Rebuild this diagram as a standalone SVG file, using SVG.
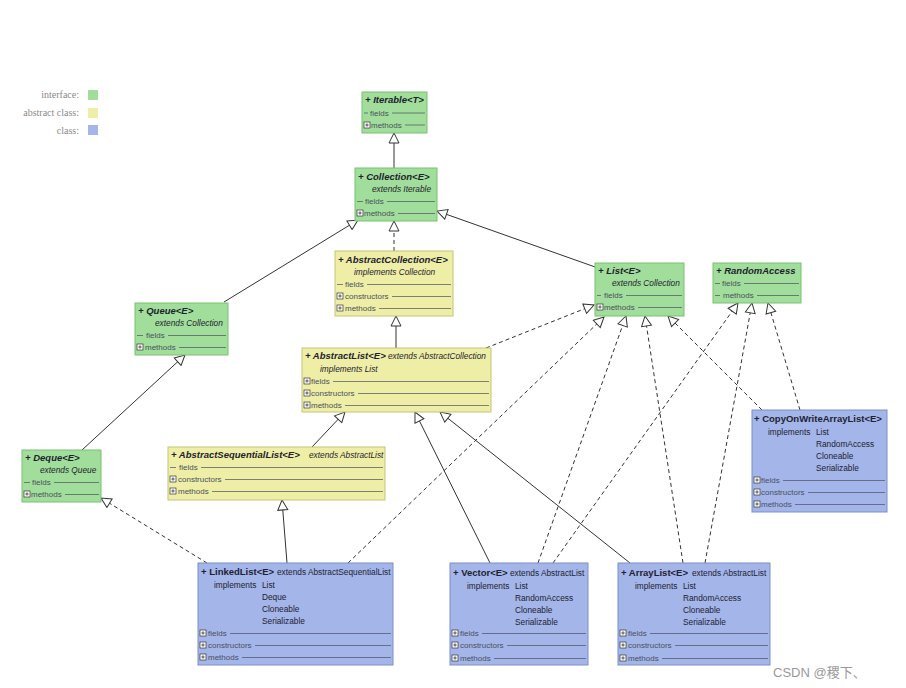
<svg xmlns="http://www.w3.org/2000/svg" xmlns:xlink="http://www.w3.org/1999/xlink" width="906" height="688" viewBox="0 0 906 688">
<style>
text{font-family:"Liberation Sans",Arial,sans-serif;fill:#1e2230}
.t{font-size:9.5px;font-weight:bold;font-style:italic}
.tc{font-size:9.5px;font-weight:bold}
.s{font-size:8.3px}
.i{font-size:8.3px;font-style:italic}
.g{font-size:8px;fill:#4a5060}
.lg{font-family:"Liberation Serif",serif;font-size:10px;fill:#8a8a8a}
.if{fill:#a2de9b;stroke:#78c070;stroke-width:1}
.ab{fill:#eeeea6;stroke:#c4c47a;stroke-width:1}
.cl{fill:#a3b5e9;stroke:#7d8fc6;stroke-width:1}
.sep{stroke:#4a5060;stroke-width:0.7}
.c{fill:none;stroke:#333;stroke-width:1}
.d{stroke-dasharray:4 3}
.wm{font-family:"Liberation Sans","Noto Sans CJK SC",sans-serif;font-size:13px;fill:#999}
</style>
<defs>
<marker id="tri" viewBox="0 0 12 12" refX="11" refY="6" markerWidth="12" markerHeight="12" markerUnits="userSpaceOnUse" orient="auto">
<path d="M1,1 L11,6 L1,11 Z" fill="#fff" stroke="#333" stroke-width="1"/>
</marker>
<g id="pl">
<rect x="0" y="0" width="6" height="6" fill="#fff" stroke="#333" stroke-width="0.7"/>
<path d="M1.3,3 H4.7 M3,1.3 V4.7" stroke="#333" stroke-width="0.8"/>
</g>
</defs>
<rect width="906" height="688" fill="#fff"/>

<g id="legend">
<text class="lg" x="79" y="98" text-anchor="end">interface:</text>
<rect x="88" y="90" width="10" height="10" fill="#a2de9b"/>
<text class="lg" x="79" y="116" text-anchor="end">abstract class:</text>
<rect x="88" y="108" width="10" height="10" fill="#eeeea6"/>
<text class="lg" x="79" y="134" text-anchor="end">class:</text>
<rect x="88" y="125" width="10" height="10" fill="#a3b5e9"/>
</g>

<g id="connectors">
<line class="c" x1="394" y1="168" x2="394" y2="133" marker-end="url(#tri)"/>
<line class="c d" x1="394" y1="251" x2="394" y2="221" marker-end="url(#tri)"/>
<line class="c" x1="224" y1="302" x2="358" y2="220" marker-end="url(#tri)"/>
<line class="c" x1="598" y1="268" x2="437" y2="211" marker-end="url(#tri)"/>
<line class="c" x1="396" y1="348" x2="396" y2="316" marker-end="url(#tri)"/>
<line class="c d" x1="486" y1="348" x2="594" y2="305" marker-end="url(#tri)"/>
<line class="c" x1="82" y1="450" x2="185" y2="355" marker-end="url(#tri)"/>
<line class="c" x1="312" y1="447" x2="345" y2="412" marker-end="url(#tri)"/>
<line class="c" x1="287" y1="563" x2="282" y2="500" marker-end="url(#tri)"/>
<line class="c d" x1="207" y1="563" x2="101" y2="498" marker-end="url(#tri)"/>
<line class="c d" x1="348" y1="563" x2="604" y2="317" marker-end="url(#tri)"/>
<line class="c" x1="490" y1="563" x2="415" y2="412" marker-end="url(#tri)"/>
<line class="c" x1="630" y1="563" x2="440" y2="412" marker-end="url(#tri)"/>
<line class="c d" x1="538" y1="563" x2="626" y2="316" marker-end="url(#tri)"/>
<line class="c d" x1="553" y1="563" x2="738" y2="303" marker-end="url(#tri)"/>
<line class="c d" x1="683" y1="563" x2="645" y2="316" marker-end="url(#tri)"/>
<line class="c d" x1="705" y1="563" x2="752" y2="303" marker-end="url(#tri)"/>
<line class="c d" x1="762" y1="410" x2="668" y2="316" marker-end="url(#tri)"/>
<line class="c d" x1="800" y1="410" x2="768" y2="303" marker-end="url(#tri)"/>
</g>

<g id="iterable">
<rect class="if" x="362" y="92" width="65" height="41"/>
<text class="t" x="365" y="103">+ Iterable&lt;T&gt;</text>
<line class="sep" x1="364" y1="113" x2="368" y2="113"/>
<text class="g" x="370" y="116">fields</text>
<line class="sep" x1="392" y1="113" x2="425" y2="113"/>
<use xlink:href="#pl" x="364" y="122"/>
<text class="g" x="371" y="128">methods</text>
<line class="sep" x1="405" y1="125" x2="425" y2="125"/>
</g>

<g id="collection">
<rect class="if" x="355" y="168" width="82" height="53"/>
<text class="t" x="358" y="180">+ Collection&lt;E&gt;</text>
<text class="i" x="372" y="192">extends  Iterable</text>
<line class="sep" x1="357" y1="201.5" x2="363" y2="201.5"/>
<text class="g" x="365" y="204">fields</text>
<line class="sep" x1="387" y1="201.5" x2="435" y2="201.5"/>
<use xlink:href="#pl" x="357" y="210"/>
<text class="g" x="364" y="216">methods</text>
<line class="sep" x1="398" y1="213.5" x2="435" y2="213.5"/>
</g>

<g id="abstractcollection">
<rect class="ab" x="335" y="251" width="118" height="65"/>
<text class="t" x="338" y="263">+ AbstractCollection&lt;E&gt;</text>
<text class="i" x="354" y="275">implements  Collection</text>
<line class="sep" x1="337" y1="284.5" x2="343" y2="284.5"/>
<text class="g" x="345" y="287">fields</text>
<line class="sep" x1="367" y1="284.5" x2="451" y2="284.5"/>
<use xlink:href="#pl" x="337" y="293"/>
<text class="g" x="345" y="299">constructors</text>
<line class="sep" x1="392" y1="296.5" x2="451" y2="296.5"/>
<use xlink:href="#pl" x="337" y="305"/>
<text class="g" x="345" y="311">methods</text>
<line class="sep" x1="379" y1="308.5" x2="451" y2="308.5"/>
</g>

<g id="list">
<rect class="if" x="595" y="263" width="89" height="53"/>
<text class="t" x="598" y="274">+ List&lt;E&gt;</text>
<text class="i" x="612" y="286">extends  Collection</text>
<line class="sep" x1="597" y1="295.5" x2="601" y2="295.5"/>
<text class="g" x="604" y="298">fields</text>
<line class="sep" x1="626" y1="295.5" x2="682" y2="295.5"/>
<use xlink:href="#pl" x="597" y="304"/>
<text class="g" x="604" y="310">methods</text>
<line class="sep" x1="638" y1="307.5" x2="682" y2="307.5"/>
</g>

<g id="randomaccess">
<rect class="if" x="713" y="263" width="88" height="40"/>
<text class="t" x="716" y="274">+ RandomAccess</text>
<line class="sep" x1="715" y1="283.5" x2="720" y2="283.5"/>
<text class="g" x="722" y="286">fields</text>
<line class="sep" x1="744" y1="283.5" x2="799" y2="283.5"/>
<line class="sep" x1="715" y1="295.5" x2="720" y2="295.5"/>
<text class="g" x="723" y="298">methods</text>
<line class="sep" x1="757" y1="295.5" x2="799" y2="295.5"/>
</g>

<g id="queue">
<rect class="if" x="135" y="303" width="93" height="52"/>
<text class="t" x="138" y="314">+ Queue&lt;E&gt;</text>
<text class="i" x="155" y="326">extends  Collection</text>
<line class="sep" x1="137" y1="335.5" x2="143" y2="335.5"/>
<text class="g" x="146" y="338">fields</text>
<line class="sep" x1="168" y1="335.5" x2="226" y2="335.5"/>
<use xlink:href="#pl" x="137" y="344"/>
<text class="g" x="145" y="350">methods</text>
<line class="sep" x1="179" y1="347.5" x2="226" y2="347.5"/>
</g>

<g id="abstractlist">
<rect class="ab" x="302" y="348" width="189" height="64"/>
<text class="t" x="305" y="359">+ AbstractList&lt;E&gt;</text>
<text class="i" x="388" y="359">extends AbstractCollection</text>
<text class="i" x="320" y="372">implements  List</text>
<use xlink:href="#pl" x="304" y="378"/>
<text class="g" x="311" y="384">fields</text>
<line class="sep" x1="333" y1="381.5" x2="489" y2="381.5"/>
<use xlink:href="#pl" x="304" y="390"/>
<text class="g" x="311" y="396">constructors</text>
<line class="sep" x1="358" y1="393.5" x2="489" y2="393.5"/>
<use xlink:href="#pl" x="304" y="402"/>
<text class="g" x="311" y="408">methods</text>
<line class="sep" x1="345" y1="405.5" x2="489" y2="405.5"/>
</g>

<g id="deque">
<rect class="if" x="22" y="450" width="79" height="52"/>
<text class="t" x="25" y="461">+ Deque&lt;E&gt;</text>
<text class="i" x="40" y="473">extends  Queue</text>
<line class="sep" x1="24" y1="482.5" x2="30" y2="482.5"/>
<text class="g" x="32" y="485">fields</text>
<line class="sep" x1="54" y1="482.5" x2="99" y2="482.5"/>
<use xlink:href="#pl" x="24" y="491"/>
<text class="g" x="31" y="497">methods</text>
<line class="sep" x1="65" y1="494.5" x2="99" y2="494.5"/>
</g>

<g id="abstractsequentiallist">
<rect class="ab" x="168" y="447" width="217" height="53"/>
<text class="t" x="171" y="458">+ AbstractSequentialList&lt;E&gt;</text>
<text class="i" x="309" y="458">extends AbstractList</text>
<line class="sep" x1="170" y1="467.5" x2="176" y2="467.5"/>
<text class="g" x="179" y="470">fields</text>
<line class="sep" x1="201" y1="467.5" x2="383" y2="467.5"/>
<use xlink:href="#pl" x="170" y="476"/>
<text class="g" x="178" y="482">constructors</text>
<line class="sep" x1="225" y1="479.5" x2="383" y2="479.5"/>
<use xlink:href="#pl" x="170" y="488"/>
<text class="g" x="178" y="494">methods</text>
<line class="sep" x1="212" y1="491.5" x2="383" y2="491.5"/>
</g>

<g id="copyonwritearraylist">
<rect class="cl" x="752" y="410" width="135" height="102"/>
<text class="tc" x="754" y="422">+ CopyOnWriteArrayList&lt;E&gt;</text>
<text class="s" x="768" y="435">implements</text>
<text class="s" x="816" y="435">List</text>
<text class="s" x="816" y="447">RandomAccess</text>
<text class="s" x="816" y="459">Cloneable</text>
<text class="s" x="816" y="471">Serializable</text>
<use xlink:href="#pl" x="754" y="477"/>
<text class="g" x="761" y="483">fields</text>
<line class="sep" x1="783" y1="480.5" x2="885" y2="480.5"/>
<use xlink:href="#pl" x="754" y="489"/>
<text class="g" x="761" y="495">constructors</text>
<line class="sep" x1="808" y1="492.5" x2="885" y2="492.5"/>
<use xlink:href="#pl" x="754" y="501"/>
<text class="g" x="761" y="507">methods</text>
<line class="sep" x1="795" y1="504.5" x2="885" y2="504.5"/>
</g>

<g id="linkedlist">
<rect class="cl" x="198" y="563" width="195" height="102"/>
<text class="tc" x="201" y="575">+ LinkedList&lt;E&gt;</text>
<text class="s" x="277" y="575">extends AbstractSequentialList</text>
<text class="s" x="214" y="588">implements</text>
<text class="s" x="262" y="588">List</text>
<text class="s" x="262" y="600">Deque</text>
<text class="s" x="262" y="612">Cloneable</text>
<text class="s" x="262" y="624">Serializable</text>
<use xlink:href="#pl" x="200" y="630"/>
<text class="g" x="208" y="636">fields</text>
<line class="sep" x1="230" y1="633.5" x2="391" y2="633.5"/>
<use xlink:href="#pl" x="200" y="642"/>
<text class="g" x="208" y="648">constructors</text>
<line class="sep" x1="255" y1="645.5" x2="391" y2="645.5"/>
<use xlink:href="#pl" x="200" y="654"/>
<text class="g" x="208" y="660">methods</text>
<line class="sep" x1="242" y1="657.5" x2="391" y2="657.5"/>
</g>

<g id="vector">
<rect class="cl" x="450" y="563" width="138" height="102"/>
<text class="tc" x="453" y="576">+ Vector&lt;E&gt;</text>
<text class="s" x="510" y="576">extends AbstractList</text>
<text class="s" x="467" y="589">implements</text>
<text class="s" x="515" y="589">List</text>
<text class="s" x="515" y="601">RandomAccess</text>
<text class="s" x="515" y="613">Cloneable</text>
<text class="s" x="515" y="625">Serializable</text>
<use xlink:href="#pl" x="452" y="630"/>
<text class="g" x="460" y="636">fields</text>
<line class="sep" x1="482" y1="633.5" x2="586" y2="633.5"/>
<use xlink:href="#pl" x="452" y="642"/>
<text class="g" x="460" y="648">constructors</text>
<line class="sep" x1="507" y1="645.5" x2="586" y2="645.5"/>
<use xlink:href="#pl" x="452" y="655"/>
<text class="g" x="460" y="661">methods</text>
<line class="sep" x1="494" y1="658.5" x2="586" y2="658.5"/>
</g>

<g id="arraylist">
<rect class="cl" x="618" y="563" width="152" height="102"/>
<text class="tc" x="621" y="576">+ ArrayList&lt;E&gt;</text>
<text class="s" x="692" y="576">extends AbstractList</text>
<text class="s" x="635" y="589">implements</text>
<text class="s" x="683" y="589">List</text>
<text class="s" x="683" y="601">RandomAccess</text>
<text class="s" x="683" y="613">Cloneable</text>
<text class="s" x="683" y="625">Serializable</text>
<use xlink:href="#pl" x="620" y="630"/>
<text class="g" x="628" y="636">fields</text>
<line class="sep" x1="650" y1="633.5" x2="768" y2="633.5"/>
<use xlink:href="#pl" x="620" y="642"/>
<text class="g" x="628" y="648">constructors</text>
<line class="sep" x1="675" y1="645.5" x2="768" y2="645.5"/>
<use xlink:href="#pl" x="620" y="655"/>
<text class="g" x="628" y="661">methods</text>
<line class="sep" x1="662" y1="658.5" x2="768" y2="658.5"/>
</g>

<text class="wm" x="773" y="677">CSDN @稷下、</text>
</svg>
